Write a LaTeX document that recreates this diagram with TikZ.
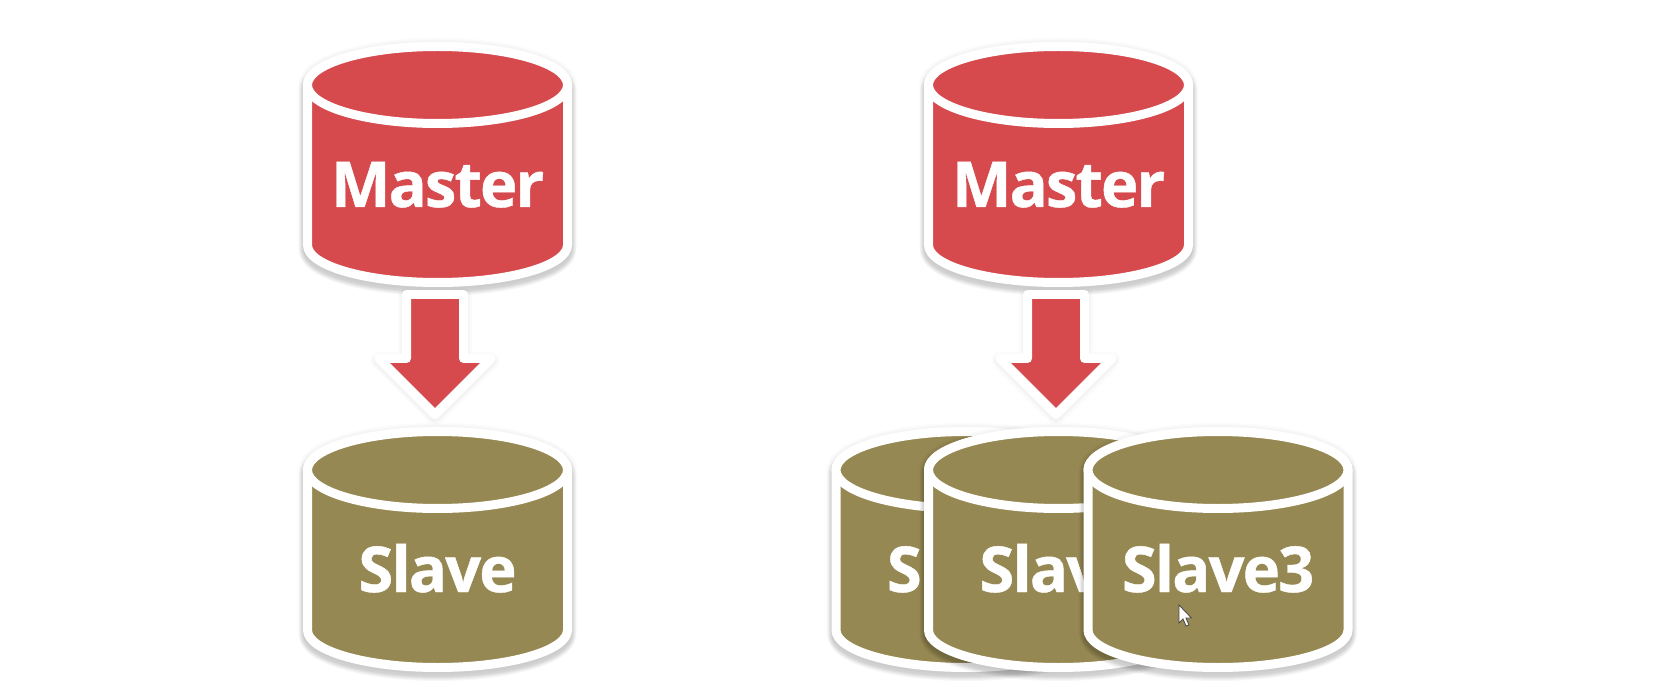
\documentclass[tikz,border=0pt]{standalone}
\usepackage{fontspec}
\setmainfont[LetterSpace=-3,BoldFeatures={FakeBold=.7}]{Open Sans}
\definecolor{masterred}{HTML}{D6494C}
\definecolor{slaveolive}{HTML}{968852}
\newcommand{\cylsil}{(-130,0) arc[start angle=180,end angle=0,x radius=130,y radius=38.5]
  -- (130,-160) arc[start angle=0,end angle=-180,x radius=130,y radius=37.5] -- cycle}
\tikzset{
  dblabel/.style={text=white,font=\bfseries\fontsize{36}{36}\selectfont,anchor=base,inner sep=0pt},
  whiteedge/.style={draw=white,line width=.18cm,line join=round},
  softedge/.style={black,opacity=.007,line join=round},
  pics/dbcyl/.style 2 args={code={
    \foreach \w in {.40,.37,.34,.31,.28,.25,.22,.20}
      \draw[softedge,line width=\w cm,shift={(0,-1)}] \cylsil;
    \foreach \w in {.34,.30,.26,.22,.18}
      \draw[black,opacity=.03,line width=\w cm,line join=round,shift={(0,-5)}] \cylsil;
    \draw[whiteedge,fill=#1] \cylsil;
    \node[dblabel] (label) at (0,-122) {#2};
    \draw[whiteedge,fill=#1] (0,0) ellipse [x radius=130,y radius=38.5];
  }},
  pics/downarrow/.style={code={
    \foreach \w in {.36,.32,.28,.25,.22,.20}
      \draw[softedge,line width=\w cm,shift={(0,-2)}]
        (-28.5,0)--(28.5,0)--(28.5,-64)--(56,-64)--(0,-120)--(-56,-64)--(-28.5,-64)--cycle;
    \draw[whiteedge,fill=masterred]
      (-28.5,0)--(28.5,0)--(28.5,-64)--(56,-64)--(0,-120)--(-56,-64)--(-28.5,-64)--cycle;
  }}
}
\begin{document}
\begin{tikzpicture}[x=.02cm,y=.02cm]
\useasboundingbox (0,0) rectangle (1658,684);
% left pair
\pic (masterA) at (437.5,599) {dbcyl={masterred}{Master}};
\pic at (435,389.5) {downarrow};
\pic (slaveA) at (437.5,214) {dbcyl={slaveolive}{Slave}};
% right group
\pic (masterB) at (1058.5,599) {dbcyl={masterred}{Master}};
\pic at (1056,389.5) {downarrow};
\pic (slaveB) at (966,214) {dbcyl={slaveolive}{Slave}};
\pic (slaveC) at (1058.5,214) {dbcyl={slaveolive}{Slave}};
\pic (slaveD) at (1218,214) {dbcyl={slaveolive}{Slave3}};
% cursor
\draw[fill=white,draw=black!70,line width=.5pt,shift={(1179,79)}]
  (0,0)--(0,-18)--(4,-14)--(7,-21)--(10,-20)--(7,-13)--(12.5,-13)--cycle;
\end{tikzpicture}
\end{document}
